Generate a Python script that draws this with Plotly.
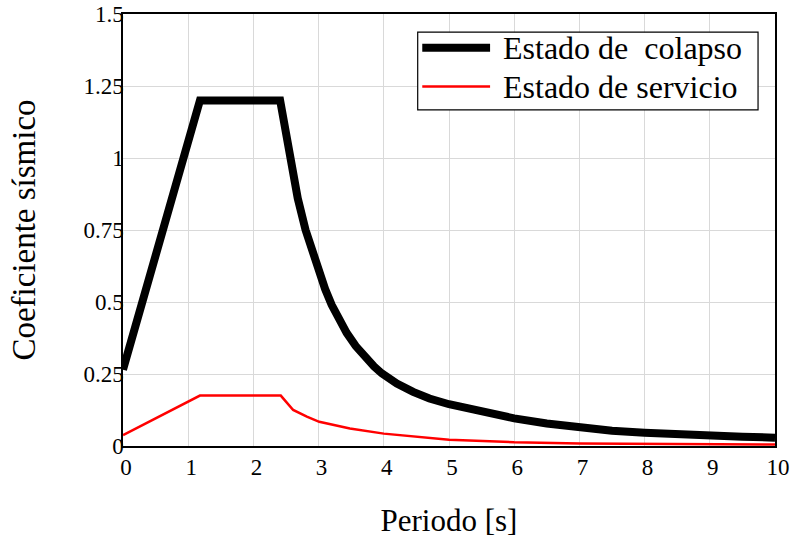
import plotly.graph_objects as go

# Periodo [s] and coeficiente sísmico, estado de colapso
T_colapso = [0.0, 1.18, 2.41, 2.56, 2.68, 2.80, 2.88, 3.00, 3.10, 3.20, 3.30, 3.43, 3.57,
             3.71, 3.85, 3.97, 4.20, 4.45, 4.70, 5.00, 5.50, 6.00, 6.50, 7.00, 7.50, 8.00,
             8.50, 9.00, 9.50, 10.0]
C_colapso = [0.265, 1.20, 1.20, 1.005, 0.86, 0.75, 0.69, 0.61, 0.545, 0.49, 0.445, 0.393, 0.347,
             0.308, 0.276, 0.252, 0.217, 0.188, 0.165, 0.145, 0.118, 0.096, 0.078, 0.063, 0.053,
             0.046, 0.040, 0.035, 0.032, 0.029]

# Estado de servicio
T_servicio = [0.0, 1.18, 2.42, 2.61, 2.82, 3.01, 3.48, 4.00, 5.00, 6.00, 7.00, 8.00, 9.00, 10.0]
C_servicio = [0.038, 0.175, 0.175, 0.125, 0.102, 0.084, 0.061, 0.043, 0.022, 0.013, 0.009,
              0.007, 0.006, 0.005]

x_ticks = [0, 1, 2, 3, 4, 5, 6, 7, 8, 9, 10]
y_ticks = [0, 0.25, 0.5, 0.75, 1, 1.25, 1.5]
y_labels = ["0", "0.25", "0.5", "0.75", "1", "1.25", "1.5"]

names = ["Estado de  colapso", "Estado de servicio"]
FONT = "Liberation Serif"

fig = go.Figure()
fig.add_trace(go.Scatter(x=T_colapso, y=C_colapso, mode="lines", name=names[0],
                         line=dict(color="black", width=8)))
fig.add_trace(go.Scatter(x=T_servicio, y=C_servicio, mode="lines", name=names[1],
                         line=dict(color="red", width=2.5)))

axis_common = dict(showline=True, linecolor="black", linewidth=1.5, mirror=True,
                   showgrid=True, gridcolor="#d9d9d9", gridwidth=1.2, automargin=False,
                   zeroline=False, ticks="", tickfont=dict(family=FONT, size=23, color="black"))

fig.update_xaxes(range=[0, 10], tickvals=x_ticks, ticklabelshift=3,
                 title=dict(text="Periodo [s]",
                            font=dict(family=FONT, size=31, color="black"), standoff=30),
                 **axis_common)
fig.update_yaxes(range=[0, 1.5], tickvals=y_ticks, ticktext=y_labels, ticklabelstandoff=-7,
                 title=dict(text="Coeficiente sísmico",
                            font=dict(family=FONT, size=33, color="black"), standoff=38),
                 **axis_common)

# Legend box drawn in paper coordinates
x0, x1 = 0.452, 0.974
y_top, y_bot = 0.958, 0.778
rows = [(0.922, "black", 8), (0.832, "red", 2.5)]
shapes = [dict(type="rect", xref="paper", yref="paper", x0=x0, x1=x1, y0=y_bot, y1=y_top,
               line=dict(color="black", width=1.2), fillcolor="white", layer="above")]
annotations = []
for (yy, col, w), label in zip(rows, names):
    shapes.append(dict(type="line", xref="paper", yref="paper", x0=0.459, x1=0.563,
                       y0=yy, y1=yy, line=dict(color=col, width=w), layer="above"))
    annotations.append(dict(xref="paper", yref="paper", x=0.58, y=yy, xanchor="left",
                            yanchor="middle", text=label, showarrow=False,
                            font=dict(family=FONT, size=32, color="black")))

fig.update_layout(width=795, height=539, showlegend=False,
                  margin=dict(l=123, r=20, t=14, b=93),
                  plot_bgcolor="white", paper_bgcolor="white",
                  shapes=shapes, annotations=annotations)

fig.write_html("out.html")
